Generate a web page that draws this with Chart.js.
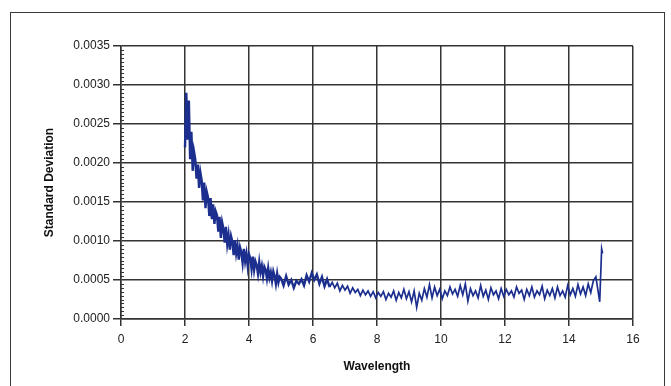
<!DOCTYPE html>
<html>
<head>
<meta charset="utf-8">
<script src="https://cdn.jsdelivr.net/npm/chart.js@4.4.1/dist/chart.umd.min.js"></script>
<style>
  html, body { margin: 0; padding: 0; background: #fff; }
  #wrap { position: relative; width: 671px; height: 386px; overflow: hidden; }
  #frame { position: absolute; left: 10px; top: 12px; width: 653px; height: 400px; border: 1.5px solid #3a3a3a; pointer-events: none; }
  canvas { position: absolute; left: 0; top: 0; }
</style>
</head>
<body>
<div id="wrap">
  <canvas id="c" width="671" height="386"></canvas>
  <div id="frame"></div>
</div>
<script>
// Tick setup
const xTicks = [0, 2, 4, 6, 8, 10, 12, 14, 16];
const yTicks = ['0.0000','0.0005','0.0010','0.0015','0.0020','0.0025','0.0030','0.0035'];

// Wavelength samples (left, dense part)
const wavelengthA = [2.00,2.04,2.08,2.12,2.16,2.20,2.24,2.28,2.32,2.36,2.40,2.44,2.48,2.52,2.56,2.60,2.64,2.68,2.72,2.76,
  2.80,2.84,2.88,2.92,2.96,3.00,3.04,3.08,3.12,3.16,3.20,3.24,3.28,3.32,3.36,3.40,3.44,3.48,3.52,3.56,
  3.60,3.64,3.68,3.72,3.76,3.80,3.84,3.88,3.92,3.96,4.00,4.04,4.08,4.12,4.16,4.20,4.24,4.28,4.32,4.36,
  4.40,4.44,4.48,4.52,4.56,4.60,4.64,4.68,4.72,4.76,4.80,4.84,4.88,4.92,4.96];
const stdDevA = [0.0022,0.0029,0.0023,0.0028,0.00205,0.0024,0.0019,0.00215,0.00205,0.0018,0.00198,0.00168,0.00188,0.00178,0.00152,0.00175,0.00142,0.00163,0.00156,0.00132,
  0.00155,0.00128,0.00147,0.00122,0.00138,0.00133,0.00112,0.00131,0.00104,0.00124,0.00116,0.00098,0.00118,0.00096,0.00108,0.00089,0.00106,0.00099,0.00082,0.00101,
  0.00084,0.00094,0.00076,0.00092,0.00086,0.00072,0.0009,0.00074,0.00084,0.00068,0.00083,0.00078,0.00064,0.0008,0.00063,0.00074,0.00069,0.00058,0.00073,0.0006,
  0.00068,0.00055,0.00067,0.00063,0.00052,0.00065,0.00053,0.0006,0.00049,0.00061,0.00055,0.00045,0.00058,0.00047,0.00054];

// Wavelength samples (right, flatter part)
const wavelengthB = [5.00,5.08,5.16,5.24,5.32,5.40,5.48,5.56,5.64,5.72,5.80,5.88,5.96,6.04,6.12,6.20,6.28,6.36,6.44,6.52,
  6.60,6.68,6.76,6.84,6.92,7.00,7.08,7.16,7.24,7.32,7.40,7.48,7.56,7.64,7.72,7.80,7.88,7.96,8.04,8.12,
  8.20,8.28,8.36,8.44,8.52,8.60,8.68,8.76,8.84,8.92,9.00,9.08,9.16,9.24,9.32,9.40,9.48,9.56,9.64,9.72,
  9.80,9.88,9.96,10.04,10.12,10.20,10.28,10.36,10.44,10.52,10.60,10.68,10.76,10.84,10.92,11.00,11.08,11.16,11.24,11.32,
  11.40,11.48,11.56,11.64,11.72,11.80,11.88,11.96,12.04,12.12,12.20,12.28,12.36,12.44,12.52,12.60,12.68,12.76,12.84,12.92,
  13.00,13.08,13.16,13.24,13.32,13.40,13.48,13.56,13.64,13.72,13.80,13.88,13.96,14.04,14.12,14.20,14.28,14.36,14.44,14.52,
  14.60,14.68,14.76,14.84,14.90,14.96,15.02,15.05];
const stdDevB = [0.00052,0.00043,0.00055,0.00044,0.0005,0.0004,0.00049,0.00045,0.00051,0.00043,0.00056,0.00048,0.00059,0.0005,0.00057,0.00045,0.00054,0.00042,0.00051,0.00041,
  0.00047,0.0004,0.00046,0.00036,0.00043,0.00037,0.00042,0.00033,0.0004,0.00034,0.00038,0.0003,0.00037,0.00031,0.00036,0.00029,0.00035,0.00027,0.00034,0.00029,
  0.00035,0.00025,0.00033,0.00028,0.00036,0.00024,0.00034,0.00027,0.00038,0.00026,0.00035,0.00022,0.00036,0.00015,0.00033,0.00024,0.00039,0.00028,0.00044,0.00027,
  0.00041,0.0003,0.00038,0.00026,0.00036,0.0003,0.00041,0.00032,0.00038,0.00029,0.00043,0.00031,0.00045,0.00023,0.00039,0.0003,0.00036,0.00027,0.00043,0.00029,
  0.00037,0.00025,0.0004,0.00031,0.00036,0.00026,0.00039,0.00029,0.00038,0.00031,0.00036,0.00028,0.00041,0.00033,0.00037,0.00025,0.00038,0.0003,0.00041,0.00028,
  0.00036,0.00031,0.00042,0.00026,0.00037,0.0003,0.00039,0.00027,0.00041,0.0003,0.00036,0.00028,0.00043,0.00031,0.00039,0.00029,0.00044,0.00032,0.00041,0.0003,
  0.00045,0.00034,0.00049,0.00054,0.00038,0.00022,0.0009,0.00084];

const points = [];
wavelengthA.forEach((x, i) => points.push({x, y: stdDevA[i]}));
wavelengthB.forEach((x, i) => points.push({x, y: stdDevB[i]}));

const LINE = '#333333';
const FONT = "'Liberation Sans', Arial, sans-serif";

// Minor ticks on the inner side of the y axis
const minorTicks = {
  id: 'minorTicks',
  afterDatasetsDraw(chart) {
    const ys = chart.scales.y, ctx = chart.ctx;
    const left = chart.chartArea.left;
    ctx.save();
    ctx.strokeStyle = LINE;
    ctx.lineWidth = 1;
    for (let k = 1; k < 70; k++) {
      if (k % 10 === 0) continue;
      const py = Math.round(ys.getPixelForValue(k * 0.00005)) + 0.5;
      ctx.beginPath();
      ctx.moveTo(left, py);
      ctx.lineTo(left + 3, py);
      ctx.stroke();
    }
    ctx.restore();
  }
};

new Chart(document.getElementById('c'), {
  type: 'line',
  data: {
    datasets: [{
      data: points,
      borderColor: '#1c2f8e',
      borderWidth: 1.7,
      segment: { borderWidth: ctx => (ctx.p0.parsed.x < 6.5 ? 2.4 : 1.7) },
      pointRadius: 0,
      tension: 0,
      fill: false
    }]
  },
  options: {
    responsive: false,
    animation: false,
    layout: { padding: { left: 0, right: 38, top: 46, bottom: 0 } },
    plugins: { legend: { display: false }, tooltip: { enabled: false } },
    scales: {
      x: {
        type: 'linear',
        min: 0, max: 16,
        afterBuildTicks: s => { s.ticks = xTicks.map(v => ({value: v})); },
        afterFit: s => { s.height = 67; },
        grid: { color: LINE, lineWidth: 1.5, tickLength: 7 },
        border: { color: LINE, width: 1.5 },
        ticks: { color: '#222', font: { family: FONT, size: 12 }, padding: 6, maxRotation: 0 },
        title: { display: true, text: 'Wavelength', color: '#111', font: { family: FONT, size: 12, weight: 'bold' }, padding: { top: 0, bottom: 12 } }
      },
      y: {
        type: 'linear',
        min: 0, max: 0.0035,
        afterBuildTicks: s => { s.ticks = yTicks.map(v => ({value: parseFloat(v)})); },
        afterFit: s => { s.width = 121; },
        grid: { color: LINE, lineWidth: 1.5, tickLength: 8 },
        border: { color: LINE, width: 1.5 },
        ticks: {
          color: '#222', font: { family: FONT, size: 12 }, padding: 3,
          callback: (v) => { const t = yTicks.find(s => Math.abs(parseFloat(s) - v) < 1e-9); return t; }
        },
        title: { display: true, text: 'Standard Deviation', color: '#111', font: { family: FONT, size: 12, weight: 'bold' }, padding: { top: 42, bottom: 0 } }
      }
    }
  },
  plugins: [minorTicks]
});
</script>
</body>
</html>
